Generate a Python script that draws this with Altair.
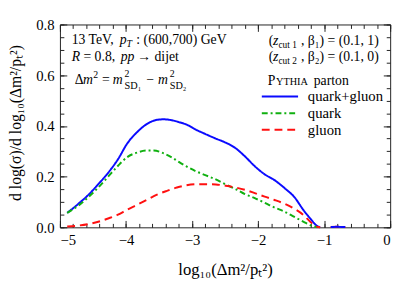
import altair as alt
import pandas as pd

# ---- data ----
series_names = ["quark+gluon", "quark", "gluon"]
series_colors = ["#0a0aff", "#10b010", "#ff1010"]
series_dashes = [[1, 0], [6, 3, 2, 3], [8, 5]]

x_qg = [-4.89, -4.72, -4.57, -4.42, -4.27, -4.12, -3.98, -3.83, -3.68, -3.53, -3.43,
        -3.30, -3.20, -3.09, -2.94, -2.79, -2.64, -2.49, -2.34, -2.20, -2.05, -1.90,
        -1.75, -1.60, -1.45, -1.31, -1.21, -1.11, -1.06]
y_qg = [0.057, 0.093, 0.128, 0.170, 0.215, 0.269, 0.331, 0.376, 0.408, 0.424, 0.426,
        0.422, 0.415, 0.406, 0.385, 0.367, 0.350, 0.334, 0.312, 0.280, 0.241, 0.209,
        0.186, 0.155, 0.119, 0.067, 0.035, 0.006, 0.0]

x_q = [-4.89, -4.72, -4.57, -4.42, -4.27, -4.12, -3.98, -3.83, -3.68, -3.58, -3.43,
       -3.30, -3.20, -3.09, -2.94, -2.79, -2.64, -2.49, -2.34, -2.20, -2.05, -1.90,
       -1.75, -1.60, -1.45, -1.31, -1.18, -1.10]
y_q = [0.057, 0.086, 0.119, 0.157, 0.200, 0.243, 0.277, 0.295, 0.303, 0.303, 0.292,
       0.275, 0.258, 0.241, 0.221, 0.205, 0.189, 0.169, 0.151, 0.131, 0.115, 0.097,
       0.078, 0.062, 0.041, 0.022, 0.006, 0.0]

x_g = [-4.89, -4.72, -4.57, -4.42, -4.27, -4.12, -3.98, -3.83, -3.68, -3.53, -3.38,
       -3.23, -3.09, -2.94, -2.79, -2.64, -2.49, -2.34, -2.20, -2.05, -1.90, -1.75,
       -1.60, -1.45, -1.31, -1.21, -1.11, -1.06]
y_g = [0.003, 0.007, 0.013, 0.022, 0.035, 0.050, 0.070, 0.089, 0.109, 0.129, 0.144,
       0.157, 0.166, 0.170, 0.170, 0.169, 0.164, 0.157, 0.148, 0.135, 0.121, 0.108,
       0.093, 0.073, 0.048, 0.022, 0.003, 0.0]

# small tail near zero after the cut-off
x_tail = [-0.90, -0.80, -0.68]
y_tail = [0.001, 0.002, 0.001]

x_major = [-5, -4, -3, -2, -1, 0]
x_minor = [-5 + 0.2 * i for i in range(26)]
y_major = [0.0, 0.2, 0.4, 0.6, 0.8]
y_minor = [0.05 * i for i in range(17)]

rows = []
for name, xs, ys in [("quark+gluon", x_qg, y_qg), ("quark", x_q, y_q), ("gluon", x_g, y_g)]:
    for i, (a, b) in enumerate(zip(xs, ys)):
        rows.append({"series": name, "seg": name + "_main", "x": a, "y": b, "order": i})
for name in ["gluon", "quark+gluon"]:
    for i, (a, b) in enumerate(zip(x_tail, y_tail)):
        rows.append({"series": name, "seg": name + "_tail", "x": a, "y": b, "order": i})
df = pd.DataFrame(rows)

W, H = 337, 207
FONT = "Liberation Serif"
INK = "#222222"

xscale = alt.Scale(domain=[-5, 0], nice=False, zero=False)
yscale = alt.Scale(domain=[0, 0.8], nice=False, zero=False)

legend = alt.Legend(
    orient="none", legendX=217, legendY=66, title=None,
    symbolType="M-3.7,0H3.7", symbolSize=100, symbolStrokeWidth=2,
    labelFont=FONT, labelFontSize=15, labelColor="black", labelOffset=21,
    rowPadding=1,
)

lines = alt.Chart(df).mark_line(strokeWidth=2, interpolate="monotone").encode(
    x=alt.X("x:Q", scale=xscale, axis=alt.Axis(
        orient="bottom", values=x_major, format="d", ticks=False, domain=False, grid=False,
        labelFont=FONT, labelFontSize=15, labelColor="black", labelPadding=6,
        title="log₁₀(Δm²/pₜ²)", titleFont=FONT, titleFontSize=17, titleFontWeight="normal",
        titleColor="black", titleY=43, titleBaseline="middle")),
    y=alt.Y("y:Q", scale=yscale, axis=alt.Axis(
        orient="left", values=y_major, format=".1f", ticks=False, domain=False, grid=False,
        labelFont=FONT, labelFontSize=15, labelColor="black", labelPadding=6,
        title="d log(σ)/d log₁₀(Δm²/pₜ²)", titleFont=FONT, titleFontSize=16,
        titleFontWeight="normal", titleColor="black", titleX=-45, titleY=100,
        titleBaseline="middle")),
    color=alt.Color("series:N", scale=alt.Scale(domain=series_names, range=series_colors), legend=legend),
    strokeDash=alt.StrokeDash("series:N", scale=alt.Scale(domain=series_names, range=series_dashes), legend=legend),
    detail="seg:N",
    order="order:Q",
)


def tick_layer(xorient, yorient, xvals, yvals, size):
    return alt.Chart(df).mark_point(opacity=0).encode(
        x=alt.X("x:Q", scale=xscale, axis=alt.Axis(
            orient=xorient, values=xvals, labels=False, domain=False, grid=False,
            tickSize=size, offset=-size, tickColor=INK, tickWidth=1, title=None)),
        y=alt.Y("y:Q", scale=yscale, axis=alt.Axis(
            orient=yorient, values=yvals, labels=False, domain=False, grid=False,
            tickSize=size, offset=-size, tickColor=INK, tickWidth=1, title=None)),
    )


ticks = [
    tick_layer("bottom", "left", x_major, y_major, 7),
    tick_layer("bottom", "left", x_minor, y_minor, 4),
    tick_layer("top", "right", x_major, y_major, 7),
    tick_layer("top", "right", x_minor, y_minor, 4),
]


def txt(s, x, y, size=14, align="left", style="normal", baseline="middle"):
    return alt.Chart(pd.DataFrame({"t": [s]})).mark_text(
        font=FONT, fontSize=size, align=align, baseline=baseline,
        fontStyle=style, color="black",
    ).encode(text="t:N", x=alt.value(x), y=alt.value(y))


IT = "italic"
texts = [
    # line 1: 13 TeV, p_T : (600,700) GeV
    txt("13 TeV,", 12, 16),
    txt("p", 61, 16, style=IT),
    txt("T", 68, 20, size=10, style=IT),
    txt(": (600,700) GeV", 78, 16),
    # line 2: R = 0.8,  pp -> dijet
    txt("R", 12, 33, style=IT),
    txt("= 0.8,", 24, 33),
    txt("pp", 62, 33, style=IT),
    txt("→ dijet", 79, 33),
    # line 3: Δm² = m²_SD1 − m²_SD2
    txt("Δ", 15, 57),
    txt("m", 23.5, 57, style=IT),
    txt("2", 34, 52, size=10),
    txt("=", 43, 57),
    txt("m", 54, 57, style=IT),
    txt("2", 66, 51, size=10),
    txt("SD₁", 66, 63, size=10.5),
    txt("−", 88, 57),
    txt("m", 100, 57, style=IT),
    txt("2", 112, 51, size=10),
    txt("SD₂", 112, 63, size=10.5),
    # right block
    txt("(", 213, 17),
    txt("z", 217.5, 17, style=IT),
    txt("cut 1", 223, 21, size=9.5),
    txt(", β₁) = (0.1, 1)", 246, 17),
    txt("(", 213, 33),
    txt("z", 217.5, 33, style=IT),
    txt("cut 2", 223, 37, size=9.5),
    txt(", β₂) = (0.1, 0)", 246, 33),
    txt("P", 212, 58, size=14),
    txt("YTHIA", 220.5, 59, size=10.5),
    txt("parton", 259, 58, size=14),
]

chart = alt.layer(lines, *ticks, *texts).resolve_axis(
    x="independent", y="independent"
).properties(
    width=W, height=H,
    autosize=alt.AutoSizeParams(type="none"),
    padding={"left": 53, "top": 14, "right": 9, "bottom": 55},
).configure_view(stroke=INK, strokeWidth=1)

chart.save("out.html", embed_options={"renderer": "svg", "actions": False})
